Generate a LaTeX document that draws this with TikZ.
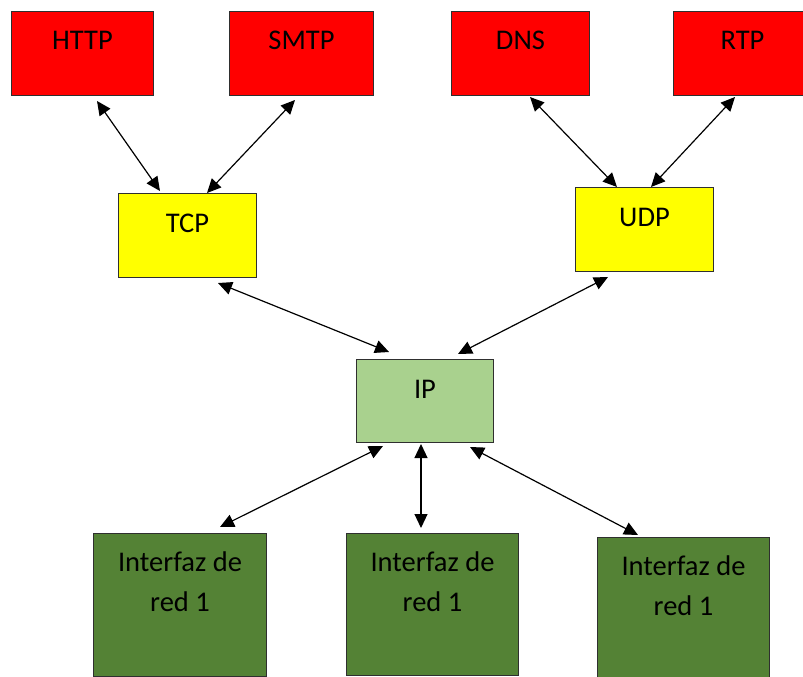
\documentclass[tikz,border=0pt]{standalone}
\usepackage{fontspec}
\setmainfont{Carlito}
\usetikzlibrary{arrows.meta,calc}
\definecolor{appred}{HTML}{FF0000}
\definecolor{trpyellow}{HTML}{FFFF00}
\definecolor{iplight}{HTML}{A9D18E}
\definecolor{ifgreen}{HTML}{548235}
\definecolor{edge}{HTML}{2F2F2F}
\begin{document}
\begin{tikzpicture}[x=1pt,y=-1pt,
  layerbox/.style={draw=edge, line width=1pt, rectangle, inner sep=0pt, anchor=north west},
  lbl/.style={font=\fontsize{28.5}{40}\selectfont, anchor=base, inner sep=0pt, align=center, text=black},
  link/.style={line width=1.2pt, {Triangle[length=14pt,width=13pt]}-{Triangle[length=14pt,width=13pt]}}
]
\useasboundingbox (0,0) rectangle (803,677);
\begin{scope}
\clip (0,0) rectangle (803,677);
% application layer
\node[layerbox, fill=appred, minimum width=142pt, minimum height=84pt] (http) at (11,11) {};
\node[layerbox, fill=appred, minimum width=144pt, minimum height=84pt] (smtp) at (229,11) {};
\node[layerbox, fill=appred, minimum width=138pt, minimum height=84pt] (dns) at (451,11) {};
\node[layerbox, fill=appred, minimum width=138pt, minimum height=84pt] (rtp) at (673,11) {};
% transport layer
\node[layerbox, fill=trpyellow, minimum width=138pt, minimum height=84pt] (tcp) at (118,193) {};
\node[layerbox, fill=trpyellow, minimum width=138pt, minimum height=84pt] (udp) at (575,187) {};
% network layer
\node[layerbox, fill=iplight, minimum width=137pt, minimum height=83pt] (ip) at (356,359) {};
% interfaces
\node[layerbox, fill=ifgreen, minimum width=173pt, minimum height=143pt] (if1) at (93,533) {};
\node[layerbox, fill=ifgreen, minimum width=172pt, minimum height=142pt] (if2) at (346,533) {};
\node[layerbox, fill=ifgreen, minimum width=172pt, minimum height=150pt] (if3) at (597,537) {};
\end{scope}
% labels
\node[lbl] (thttp) at ([yshift=-39pt]http.north) {HTTP};
\node[lbl] (tsmtp) at ([yshift=-39pt]smtp.north) {SMTP};
\node[lbl] (tdns) at ([yshift=-39pt]dns.north) {DNS};
\node[lbl] (trtp) at ([yshift=-39pt]rtp.north) {RTP};
\node[lbl] (ttcp) at ([yshift=-39pt]tcp.north) {TCP};
\node[lbl] (tudp) at ([yshift=-39pt]udp.north) {UDP};
\node[lbl] (tip) at ([yshift=-39pt]ip.north) {IP};
\node[lbl] (tif1) at ([yshift=-78pt]if1.north) {Interfaz de\\red 1};
\node[lbl] (tif2) at ([yshift=-78pt]if2.north) {Interfaz de\\red 1};
\node[lbl] (tif3) at ([yshift=-78pt]if3.north) {Interfaz de\\red 1};
% connectors
\draw[link] ($(http.south west)+(86,5)$) -- ($(tcp.north west)+(42,-2)$);
\draw[link] ($(smtp.south west)+(66,4)$) -- ($(tcp.north west)+(89,0)$);
\draw[link] ($(dns.south west)+(79,1)$) -- ($(udp.north west)+(42,0)$);
\draw[link] ($(rtp.south west)+(62,1)$) -- ($(udp.north west)+(76,0)$);
\draw[link] ($(tcp.south west)+(100,5)$) -- ($(ip.north west)+(33,-7)$);
\draw[link] ($(udp.south west)+(33,5)$) -- ($(ip.north west)+(102,-5)$);
\draw[link] ($(ip.south west)+(27,3)$) -- ($(if1.north west)+(127,-6)$);
\draw[link] ($(ip.south west)+(65,1)$) -- ($(if2.north west)+(75,-5)$);
\draw[link] ($(ip.south west)+(114,4)$) -- ($(if3.north west)+(41,-2)$);
\end{tikzpicture}
\end{document}
